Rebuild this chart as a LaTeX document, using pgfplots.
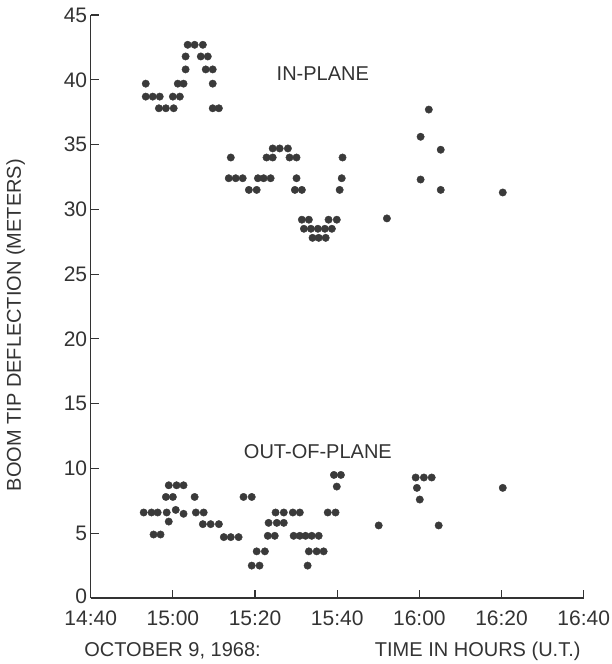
\documentclass[border=0pt]{standalone}
\usepackage{fontspec}
\setmainfont{Liberation Sans}
\usepackage{pgfplots}
\pgfplotsset{compat=1.18}
\definecolor{ink}{HTML}{333333}
\definecolor{dot}{HTML}{3A3A3A}
\begin{document}
\begin{tikzpicture}
\useasboundingbox (-90.7pt,-66pt) rectangle (520.3pt,598pt);
\begin{axis}[
  scale only axis,
  width=493pt, height=583pt,
  xmin=0, xmax=120, ymin=0, ymax=45,
  axis lines*=left,
  axis line style={ink, line width=1.3pt},
  tick style={ink, line width=1.2pt},
  tick align=inside,
  major tick length=8pt,
  xtick={0,20,40,60,80,100,120},
  xticklabels={14:40,15:00,15:20,15:40,16:00,16:20,16:40},
  ytick={0,5,...,45},
  yticklabels={\raisebox{4pt}{0},5,10,15,20,25,30,35,40,45},
  tick label style={font=\fontsize{21}{24}\selectfont, text=ink},
  xticklabel style={yshift=-9pt},
  clip=false,
]
% in-plane
\addplot[only marks, mark=*, mark size=3.7pt, color=dot] coordinates {
(23.6,42.7)(25.3,42.7)(27.3,42.7)
(23.1,41.8)(26.8,41.8)(28.5,41.8)
(23.1,40.8)(28.0,40.8)(29.7,40.8)
(13.4,39.7)(21.2,39.7)(22.6,39.7)(29.7,39.7)
(13.4,38.7)(15.1,38.7)(16.8,38.7)(20.0,38.7)(21.7,38.7)
(16.6,37.8)(18.3,37.8)(20.2,37.8)(29.7,37.8)(31.2,37.8)
(44.3,34.7)(46.0,34.7)(48.0,34.7)
(34.1,34.0)(42.8,34.0)(44.3,34.0)(48.4,34.0)(50.1,34.0)(61.3,34.0)
(33.6,32.4)(35.3,32.4)(37.0,32.4)(40.7,32.4)(42.1,32.4)(43.8,32.4)(50.1,32.4)(61.1,32.4)
(38.5,31.5)(40.4,31.5)(49.7,31.5)(51.4,31.5)(60.6,31.5)
(51.4,29.2)(53.1,29.2)(57.9,29.2)(59.9,29.2)
(51.9,28.5)(53.6,28.5)(55.3,28.5)(57.0,28.5)(58.7,28.5)
(54.0,27.8)(55.5,27.8)(57.2,27.8)
(82.3,37.7)(80.3,35.6)(85.2,34.6)(80.3,32.3)(85.2,31.5)(100.3,31.3)(72.1,29.3)
};
% out-of-plane
\addplot[only marks, mark=*, mark size=3.7pt, color=dot] coordinates {
(19.0,8.7)(20.9,8.7)(22.6,8.7)
(18.3,7.8)(20.0,7.8)(25.3,7.8)(37.2,7.8)(39.2,7.8)
(12.9,6.6)(14.8,6.6)(16.3,6.6)(18.5,6.6)(20.7,6.8)(22.6,6.5)(25.6,6.6)(27.5,6.6)
(19.0,5.9)
(27.3,5.7)(29.2,5.7)(31.2,5.7)
(15.3,4.9)(17.0,4.9)
(32.4,4.7)(34.1,4.7)(36.0,4.7)
(59.2,9.5)(60.9,9.5)(59.9,8.6)
(45.0,6.6)(47.0,6.6)(49.2,6.6)(50.9,6.6)(57.7,6.6)(59.6,6.6)
(43.3,5.8)(45.3,5.8)(47.0,5.8)
(43.1,4.8)(44.8,4.8)(49.4,4.8)(50.9,4.8)(52.3,4.8)(53.8,4.8)(55.5,4.8)
(40.4,3.6)(42.4,3.6)(53.1,3.6)(55.0,3.6)(56.7,3.6)
(39.2,2.5)(41.1,2.5)(52.8,2.5)
(79.1,9.3)(81.1,9.3)(83.0,9.3)(79.4,8.5)(80.1,7.6)(100.3,8.5)
(70.1,5.6)(84.7,5.6)
};
\node[font=\fontsize{20}{24}\selectfont, text=ink] at (axis cs:56.5,40.5) {IN-PLANE};
\node[font=\fontsize{20}{24}\selectfont, text=ink] at (axis cs:55.3,11.3) {OUT-OF-PLANE};
\node[font=\fontsize{20}{24}\selectfont, text=ink] at (axis description cs:0.166,-0.091) {OCTOBER 9, 1968:};
\node[font=\fontsize{20}{24}\selectfont, text=ink] at (axis description cs:0.785,-0.091) {TIME IN HOURS (U.T.)};
\node[font=\fontsize{20}{24}\selectfont, text=ink, rotate=90] at (axis description cs:-0.152,0.468) {BOOM TIP DEFLECTION (METERS)};
\end{axis}
\end{tikzpicture}
\end{document}
